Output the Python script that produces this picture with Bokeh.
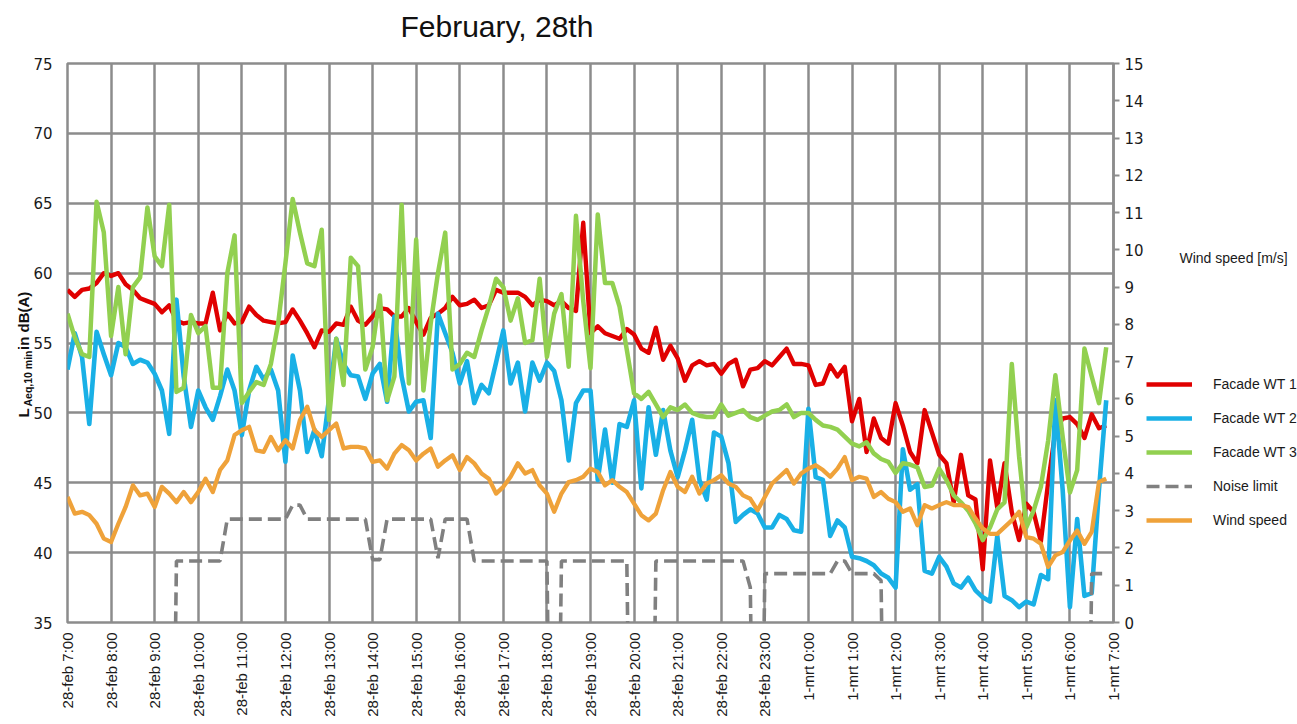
import numpy as np
from bokeh.plotting import figure
from bokeh.layouts import row
from bokeh.models import (Range1d, LinearAxis, FixedTicker, Legend, LegendItem,
                          ColumnDataSource, Title, Label)
from bokeh.embed import file_html
from bokeh.resources import INLINE

# ---------------- data (10-minute values, 28-feb 7:00 -> 1-mrt 6:50) ----------------
hour_labels = ["28-feb 7:00", "28-feb 8:00", "28-feb 9:00", "28-feb 10:00", "28-feb 11:00",
               "28-feb 12:00", "28-feb 13:00", "28-feb 14:00", "28-feb 15:00", "28-feb 16:00",
               "28-feb 17:00", "28-feb 18:00", "28-feb 19:00", "28-feb 20:00", "28-feb 21:00",
               "28-feb 22:00", "28-feb 23:00", "1-mrt 0:00", "1-mrt 1:00", "1-mrt 2:00",
               "1-mrt 3:00", "1-mrt 4:00", "1-mrt 5:00", "1-mrt 6:00", "1-mrt 7:00"]

facade_wt1 = [
    58.8, 58.3, 58.8, 58.9, 59.3, 60.0, 59.8, 60.0, 59.2, 58.8,
    58.2, 58.0, 57.8, 57.2, 57.7, 56.6, 56.4, 56.5, 56.4, 56.4,
    58.6, 55.9, 57.1, 56.4, 56.5, 57.6, 57.0, 56.6, 56.5, 56.4,
    56.5, 57.4, 56.6, 55.7, 54.7, 55.9, 55.8, 56.4, 56.3, 57.6,
    56.6, 56.3, 56.9, 57.5, 57.4, 56.9, 56.9, 57.5, 56.5, 55.6,
    56.8, 57.1, 57.5, 58.3, 57.7, 57.8, 58.1, 57.5, 57.7, 58.8,
    58.6, 58.6, 58.6, 58.3, 57.7, 58.1, 58.0, 57.7, 58.0, 57.5,
    57.3, 63.6, 55.7, 56.2, 55.7, 55.5, 55.3, 56.0, 55.6, 54.6,
    54.3, 56.1, 53.8, 54.8, 53.9, 52.3, 53.4, 53.7, 53.4, 53.5,
    52.8, 53.5, 53.8, 51.9, 53.1, 53.2, 53.7, 53.4, 54.0, 54.6,
    53.5, 53.5, 53.4, 52.0, 52.1, 53.4, 52.6, 53.3, 49.4, 51.0,
    47.2, 49.6, 48.2, 47.8, 50.7, 49.1, 47.2, 46.4, 50.2, 48.6,
    47.0, 46.4, 43.6, 47.0, 44.1, 43.8, 38.8, 46.6, 43.2, 46.4,
    42.9, 40.9, 43.5, 42.9, 40.8, 45.0, 48.7, 49.6, 49.7, 49.2,
    48.2, 49.9, 48.9, 49.1]

facade_wt2 = [
    53.1, 55.7, 54.0, 49.2, 55.8, 54.2, 52.7, 55.0, 54.7, 53.5,
    53.8, 53.6, 52.8, 51.6, 48.5, 58.1, 52.6, 49.0, 51.6, 50.4,
    49.5, 51.2, 53.1, 51.6, 48.4, 51.6, 53.3, 52.4, 53.1, 51.6,
    46.5, 54.1, 51.6, 47.2, 48.8, 46.9, 51.0, 55.3, 53.5, 52.7,
    52.6, 51.0, 52.8, 53.5, 50.8, 56.9, 52.6, 50.1, 50.8, 50.9,
    48.2, 57.1, 55.7, 54.3, 52.1, 53.7, 50.7, 52.0, 51.4, 53.6,
    55.9, 52.1, 53.6, 50.1, 53.6, 52.3, 53.6, 53.0, 50.9, 46.6,
    50.7, 51.6, 51.6, 45.2, 48.8, 45.0, 49.2, 49.0, 50.9, 44.6,
    50.4, 47.0, 50.2, 47.3, 45.4, 47.3, 49.5, 45.2, 43.8, 48.6,
    48.3, 46.4, 42.2, 42.7, 43.1, 42.8, 41.8, 41.8, 42.7, 42.4,
    41.6, 41.5, 50.3, 45.4, 45.2, 41.2, 42.3, 41.8, 39.7, 39.6,
    39.4, 39.1, 38.5, 38.2, 37.5, 47.4, 44.5, 44.9, 38.7, 38.5,
    39.7, 39.0, 37.8, 37.5, 38.2, 37.3, 36.8, 36.5, 41.2, 36.9,
    36.6, 36.1, 36.5, 36.3, 38.4, 38.1, 50.9, 44.5, 36.1, 42.4,
    36.9, 37.1, 44.5, 50.9]

facade_wt3 = [
    57.1, 55.4, 54.2, 54.0, 65.1, 62.9, 55.5, 59.0, 54.2, 59.0,
    59.7, 64.7, 61.2, 60.5, 64.9, 51.5, 51.8, 57.0, 55.7, 56.2,
    51.8, 51.8, 60.0, 62.7, 50.7, 51.5, 52.2, 52.0, 53.5, 56.4,
    60.7, 65.3, 62.9, 60.7, 60.5, 63.1, 49.5, 55.3, 52.0, 61.1,
    60.5, 53.1, 54.7, 58.4, 50.9, 52.6, 64.9, 52.1, 62.4, 51.6,
    56.4, 60.0, 62.9, 53.1, 53.5, 54.3, 54.0, 55.9, 57.6, 59.6,
    59.0, 56.6, 58.2, 55.0, 55.2, 59.6, 54.0, 57.1, 58.5, 53.3,
    64.1, 58.0, 53.2, 64.2, 59.3, 59.3, 57.6, 54.5, 51.4, 51.0,
    51.5, 50.6, 49.7, 50.4, 50.2, 50.6, 50.0, 49.8, 49.7, 49.7,
    50.6, 49.8, 50.0, 50.2, 49.7, 49.5, 49.8, 50.1, 50.2, 50.6,
    49.7, 50.0, 50.0, 49.5, 49.1, 49.0, 48.8, 48.3, 47.8, 47.6,
    47.9, 47.1, 46.7, 46.5, 45.7, 46.4, 46.3, 46.1, 44.7, 44.8,
    46.0, 45.2, 44.1, 43.6, 43.0, 42.1, 40.9, 41.8, 43.1, 43.6,
    53.5, 46.9, 41.8, 43.0, 44.7, 48.0, 52.7, 48.3, 44.3, 45.9,
    54.6, 52.6, 50.7, 54.7]

noise_limit = [
    0, 0, 0, 0, 0, 0, 0, 0, 0, 0,
    0, 0, 0, 0, 0, 39.4, 39.4, 39.4, 39.4, 39.4,
    39.4, 39.4, 42.4, 42.4, 42.4, 42.4, 42.4, 42.4, 42.4, 42.4,
    42.4, 43.4, 43.4, 42.4, 42.4, 42.4, 42.4, 42.4, 42.4, 42.4,
    42.4, 42.4, 39.5, 39.5, 42.4, 42.4, 42.4, 42.4, 42.4, 42.4,
    42.4, 39.6, 42.4, 42.4, 42.4, 42.4, 39.4, 39.4, 39.4, 39.4,
    39.4, 39.4, 39.4, 39.4, 39.4, 39.4, 39.4, 0, 39.4, 39.4,
    39.4, 39.4, 39.4, 39.4, 39.4, 39.4, 39.4, 39.4, 0, 0,
    0, 39.4, 39.4, 39.4, 39.4, 39.4, 39.4, 39.4, 39.4, 39.4,
    39.4, 39.4, 39.4, 39.4, 37.5, 0, 38.5, 38.5, 38.5, 38.5,
    38.5, 38.5, 38.5, 38.5, 38.5, 38.5, 39.4, 39.4, 38.5, 38.5,
    38.5, 38.5, 38.0, 0, 0, 0, 0, 0, 0, 0,
    0, 0, 0, 0, 0, 0, 0, 0, 0, 0,
    0, 0, 0, 0, 0, 0, 0, 0, 0, 0,
    0, 38.5, 38.5, 38.5]

wind_speed = [
    3.37, 2.92, 2.97, 2.88, 2.65, 2.25, 2.16, 2.65, 3.10, 3.68,
    3.41, 3.46, 3.10, 3.64, 3.46, 3.23, 3.50, 3.23, 3.50, 3.86,
    3.50, 4.09, 4.35, 5.03, 5.16, 5.25, 4.62, 4.58, 4.98, 4.62,
    4.89, 4.67, 5.43, 5.79, 5.16, 4.98, 5.16, 5.34, 4.67, 4.71,
    4.71, 4.67, 4.31, 4.35, 4.13, 4.53, 4.76, 4.62, 4.35, 4.53,
    4.67, 4.18, 4.35, 4.49, 4.09, 4.44, 4.27, 4.00, 3.86, 3.46,
    3.64, 3.91, 4.27, 4.00, 4.09, 3.68, 3.46, 2.97, 3.46, 3.77,
    3.82, 3.91, 4.13, 4.04, 3.68, 3.82, 3.64, 3.50, 3.19, 2.88,
    2.74, 2.92, 3.55, 4.04, 3.64, 3.50, 3.91, 3.46, 3.73, 3.82,
    3.95, 3.73, 3.64, 3.41, 3.32, 3.01, 3.37, 3.73, 3.91, 4.09,
    3.73, 4.00, 4.13, 4.22, 4.09, 3.91, 4.13, 4.44, 3.82, 3.91,
    3.86, 3.37, 3.50, 3.32, 3.23, 2.97, 3.06, 2.61, 3.15, 3.06,
    3.15, 3.23, 3.15, 3.15, 3.10, 2.79, 2.52, 2.38, 2.38, 2.56,
    2.74, 2.97, 2.29, 2.25, 2.11, 1.49, 1.80, 1.89, 2.20, 2.47,
    2.11, 2.43, 3.77, 3.86]

series_names = ["Facade WT 1", "Facade WT 2", "Facade WT 3", "Noise limit", "Wind speed"]
left_ticks = [35, 40, 45, 50, 55, 60, 65, 70, 75]
right_ticks = list(range(0, 16))

# ---------------- styles ----------------
STYLES = [dict(line_color="#E00000", line_width=4.4, line_join="round"),
          dict(line_color="#19B0E6", line_width=4.6, line_join="round"),
          dict(line_color="#92D050", line_width=4.5, line_join="round"),
          dict(line_color="#808080", line_width=3.6, line_dash="13 6"),
          dict(line_color="#EFA23A", line_width=4.3, line_join="round")]
GRID = "#8c8c8c"
NB = "\u00a0"

# ---------------- main figure ----------------
t_hours = np.arange(len(facade_wt1)) / 6.0
src = ColumnDataSource(dict(t=t_hours, wt1=facade_wt1, wt2=facade_wt2, wt3=facade_wt3,
                            noise=noise_limit, wind=wind_speed))

FL, FRB, FT, FB = 67, 32, 63, 102
FRAME_BOTTOM = FT + 559
p = figure(frame_width=1046, frame_height=559,
           x_range=Range1d(0, 24), y_range=Range1d(35, 75),
           output_backend="svg", toolbar_location=None,
           min_border_left=FL, min_border_right=FRB, min_border_top=FT, min_border_bottom=FB)
p.extra_y_ranges = {"wind": Range1d(0, 15)}
p.background_fill_color = "white"
p.border_fill_color = "white"
p.outline_line_color = GRID
p.outline_line_width = 2.5

# chart title (a blank spacer strip sits between it and the plot area)
spacer = Title(text=NB, text_font_size="12px", standoff=5)
chart_title = Title(text="February, 28th", align="left", offset=400 - FL,
                    text_font="Liberation Sans", text_font_size="30px",
                    text_font_style="normal", text_color="#111111", standoff=0)
p.add_layout(spacer, "above")
p.add_layout(chart_title, "above")

# x axis
p.xaxis.ticker = FixedTicker(ticks=list(range(len(hour_labels))))
p.xaxis.major_label_overrides = {i: s for i, s in enumerate(hour_labels)}
p.xaxis.major_label_orientation = np.pi / 2
p.xaxis.axis_line_color = None
p.xaxis.major_tick_line_color = None
p.xaxis.major_tick_out = 0
p.xaxis.major_tick_in = 0
p.xaxis.minor_tick_line_color = None
p.xaxis.major_label_standoff = 10
p.xaxis.major_label_text_font = "Liberation Sans"
p.xaxis.major_label_text_font_size = "15px"
p.xaxis.major_label_text_color = "#1a1a1a"

# left axis
p.yaxis.ticker = FixedTicker(ticks=left_ticks)
p.yaxis.axis_line_color = None
p.yaxis.major_tick_line_color = None
p.yaxis.major_tick_out = 0
p.yaxis.major_tick_in = 0
p.yaxis.minor_tick_line_color = None
p.yaxis.major_label_standoff = 15
p.yaxis.major_label_text_font = "DejaVu Sans"
p.yaxis.major_label_text_font_size = "15px"
p.yaxis.major_label_text_color = "#1a1a1a"

p.xgrid.grid_line_color = GRID
p.xgrid.grid_line_width = 2.5
p.ygrid.grid_line_color = GRID
p.ygrid.grid_line_width = 2.5

# y-axis title  L_Aeq,10 min in dB(A)  (subscript in its own strip)
sub_title = Title(text="Aeq,10 min", align="left", offset=622 - 406,
                  text_font="Liberation Sans", text_font_size="10.5px",
                  text_font_style="bold", text_color="#111111", standoff=-6)
main_title = Title(text="L" + NB * 14 + "in dB(A)", align="left", offset=622 - 417,
                   text_font="Liberation Sans", text_font_size="15px",
                   text_font_style="bold", text_color="#111111", standoff=-19)
p.add_layout(sub_title, "left")
p.add_layout(main_title, "left")

# right axis
ax2 = LinearAxis(y_range_name="wind", ticker=FixedTicker(ticks=right_ticks))
ax2.axis_line_color = GRID
ax2.axis_line_width = 2.5
ax2.major_tick_line_color = GRID
ax2.major_tick_line_width = 2
ax2.major_tick_out = 6
ax2.major_tick_in = 0
ax2.minor_tick_line_color = None
ax2.major_label_standoff = 5
ax2.major_label_text_font = "DejaVu Sans"
ax2.major_label_text_font_size = "15px"
ax2.major_label_text_color = "#1a1a1a"
p.add_layout(ax2, "right")

# lines
p.line("t", "wt1", source=src, **STYLES[0])
p.line("t", "wt2", source=src, **STYLES[1])
p.line("t", "wt3", source=src, **STYLES[2])
p.line("t", "noise", source=src, **STYLES[3])
p.line("t", "wind", source=src, y_range_name="wind", **STYLES[4])

# ---------------- side strip: secondary-axis caption and legend ----------------
# (in the row layout the strip's plot frame is aligned with the main plot frame)
MAIN_W = FL + 1046 + FRB
SIDE_W = 1297 - MAIN_W
q = figure(width=SIDE_W, height=724, x_range=Range1d(0, 1), y_range=Range1d(0, 1),
           output_backend="svg", toolbar_location=None,
           min_border_left=0, min_border_right=0, min_border_top=0, min_border_bottom=0)
q.axis.visible = False
q.grid.visible = False
q.outline_line_color = None
q.background_fill_color = "white"
q.border_fill_color = "white"

items = []
for name, st in zip(series_names, STYLES):
    r = q.line(x=[np.nan], y=[np.nan], **st)   # legend swatch only, nothing plotted
    items.append(LegendItem(label=name, renderers=[r]))
legend = Legend(items=items, location=(0, FRAME_BOTTOM - 530), margin=0, padding=0,
                spacing=14, glyph_width=46, glyph_height=20, label_height=20,
                label_standoff=21, label_text_font="Liberation Sans",
                label_text_font_size="14px", label_text_color="#1a1a1a",
                border_line_color=None, background_fill_alpha=0)
q.add_layout(legend, "center")
q.add_layout(Label(x=1178 - MAIN_W, y=FRAME_BOTTOM - 257, x_units="screen", y_units="screen",
                   text="Wind speed [m/s]", text_font="Liberation Sans",
                   text_font_size="14px", text_color="#1a1a1a",
                   text_baseline="middle", text_align="left"))

layout = row(p, q, spacing=0)
open("out.html", "w").write(file_html(layout, INLINE))
